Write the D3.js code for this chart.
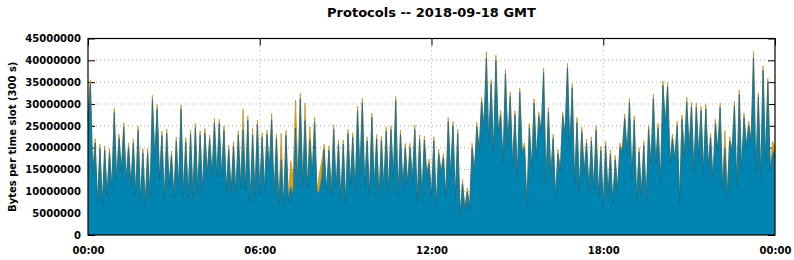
<!DOCTYPE html>
<html>
<head>
<meta charset="utf-8">
<script src="https://cdn.jsdelivr.net/npm/d3@7"></script>
<style>
  body { margin: 0; background: #fff; }
  text { font-family: "DejaVu Sans", sans-serif; font-weight: bold; }
</style>
</head>
<body>
<div id="chart"></div>
<script>
// bytes per 300 s slot, in millions (blue = lower layer, orange = upper layer)
var blueSeries = [
  26.2, 34.6, 13.7, 21.1, 7.2, 19.8, 6.7, 19.4, 9.0, 18.8, 10.6, 28.0,
  12.2, 22.1, 14.5, 24.7, 12.3, 20.1, 11.1, 21.0, 9.0, 24.0, 7.6, 18.8,
  6.9, 18.8, 8.4, 31.0, 17.4, 28.9, 12.6, 22.8, 7.8, 23.3, 11.4, 18.2,
  8.4, 21.4, 10.7, 28.8, 9.1, 21.3, 8.4, 23.0, 8.4, 24.6, 9.5, 22.9,
  9.6, 23.4, 13.7, 21.9, 13.3, 25.7, 13.1, 25.5, 13.1, 24.0, 9.9, 19.6,
  9.5, 20.4, 9.0, 22.9, 10.7, 24.1, 10.3, 26.3, 7.2, 22.9, 9.0, 25.3,
  9.5, 22.4, 9.9, 23.0, 14.9, 26.4, 8.8, 22.1, 6.9, 17.3, 6.5, 22.8,
  7.6, 11.0, 9.0, 24.5, 10.4, 31.2, 11.0, 26.2, 10.6, 21.8, 13.6, 25.8,
  9.5, 10.0, 13.0, 19.6, 9.6, 19.4, 9.1, 24.2, 10.3, 20.8, 7.8, 20.8,
  6.9, 23.2, 11.4, 22.4, 9.5, 28.5, 13.7, 30.3, 11.1, 21.5, 9.0, 26.9,
  10.7, 22.0, 8.0, 21.7, 10.3, 23.8, 9.5, 24.1, 12.6, 30.7, 8.8, 23.0,
  10.7, 20.0, 11.4, 20.0, 12.2, 24.2, 7.5, 21.9, 8.4, 21.7, 13.7, 16.4,
  8.6, 21.5, 6.1, 18.6, 14.1, 17.7, 8.4, 25.9, 13.3, 25.0, 8.4, 23.2,
  4.2, 11.7, 5.7, 9.8, 6.1, 20.0, 14.5, 24.8, 19.2, 30.5, 24.4, 40.5,
  21.0, 34.6, 18.7, 40.0, 23.3, 27.5, 16.4, 36.9, 20.6, 31.7, 15.4, 27.5,
  13.0, 32.7, 18.7, 20.1, 6.5, 24.6, 15.2, 30.2, 17.5, 27.2, 23.3, 37.2,
  11.6, 28.2, 13.3, 22.1, 8.4, 18.6, 14.5, 27.2, 22.9, 38.3, 19.4, 33.7,
  11.4, 25.7, 10.1, 23.7, 14.1, 21.0, 9.9, 21.5, 10.3, 24.0, 8.8, 19.4,
  6.1, 20.5, 9.0, 18.5, 6.9, 17.2, 10.3, 20.1, 19.1, 26.7, 18.7, 30.3,
  12.6, 26.3, 7.6, 19.0, 9.1, 20.6, 7.6, 24.2, 16.0, 31.2, 16.0, 24.6,
  11.6, 34.3, 25.2, 33.9, 16.4, 22.1, 17.2, 25.1, 7.2, 26.5, 17.9, 30.5,
  19.4, 29.4, 14.1, 29.2, 17.9, 28.5, 14.1, 28.9, 15.6, 22.3, 12.3, 25.5,
  19.1, 29.2, 10.7, 19.9, 8.3, 21.5, 19.1, 29.6, 10.7, 32.2, 14.5, 26.9,
  20.2, 25.1, 21.4, 40.6, 14.1, 31.6, 13.0, 37.7, 16.8, 34.9, 14.9, 18.4, 19.4
];
var orangeSeries = [
  0.8, 1.0, 0.4, 1.0, 0.4, 1.0, 0.4, 1.0, 0.4, 1.0, 0.4, 1.0,
  0.4, 1.0, 0.4, 1.0, 0.4, 1.0, 0.4, 1.0, 0.4, 1.0, 0.4, 1.0,
  0.4, 1.0, 0.4, 1.0, 0.4, 1.0, 0.4, 1.0, 0.4, 1.0, 0.4, 1.0,
  0.4, 1.0, 0.4, 1.0, 0.4, 1.0, 0.4, 1.0, 0.4, 1.0, 0.4, 1.0,
  0.4, 1.0, 0.4, 1.0, 0.4, 1.0, 0.4, 1.0, 0.4, 1.0, 0.4, 1.0,
  0.4, 1.0, 0.4, 1.0, 0.4, 4.8, 0.4, 1.0, 0.4, 1.5, 0.4, 1.0,
  0.4, 1.0, 0.4, 1.0, 0.4, 1.4, 0.4, 1.0, 0.4, 6.0, 0.4, 1.2,
  0.4, 6.0, 4.0, 6.4, 3.0, 1.2, 0.4, 4.0, 0.4, 3.0, 0.4, 1.2,
  0.4, 4.0, 4.0, 1.2, 0.4, 1.0, 0.4, 1.0, 0.4, 1.0, 0.4, 1.0,
  0.4, 1.0, 0.4, 1.0, 0.4, 1.0, 0.4, 1.0, 0.4, 1.0, 0.4, 1.0,
  0.4, 1.0, 0.4, 1.0, 0.4, 1.0, 0.4, 1.0, 0.4, 1.0, 0.4, 1.0,
  0.4, 1.0, 0.4, 1.0, 0.4, 1.0, 0.4, 1.0, 0.4, 1.0, 0.4, 1.0,
  0.4, 1.0, 0.4, 1.0, 0.4, 1.0, 0.4, 1.0, 0.4, 1.0, 0.4, 1.0,
  0.4, 1.0, 0.4, 1.0, 0.4, 1.0, 0.4, 1.0, 0.4, 1.0, 0.4, 1.5,
  0.4, 1.0, 0.4, 1.2, 0.4, 1.0, 0.4, 1.0, 0.4, 1.0, 0.4, 1.0,
  0.4, 1.0, 0.4, 1.0, 0.4, 1.0, 0.4, 1.0, 0.4, 1.0, 0.4, 1.0,
  0.4, 1.0, 0.4, 1.0, 0.4, 1.0, 0.4, 1.0, 0.4, 1.0, 0.4, 1.0,
  0.4, 1.2, 0.4, 1.0, 0.4, 1.0, 0.4, 1.0, 0.4, 1.0, 0.4, 1.0,
  0.4, 1.0, 0.4, 1.0, 0.4, 1.0, 0.4, 1.0, 0.4, 1.0, 0.4, 1.0,
  0.4, 1.0, 0.4, 1.0, 0.4, 1.0, 0.4, 1.0, 0.4, 1.0, 0.4, 1.0,
  0.4, 1.0, 0.4, 1.0, 0.4, 1.0, 0.4, 1.0, 0.4, 1.0, 0.4, 1.0,
  0.4, 1.0, 0.4, 1.0, 0.4, 1.0, 0.4, 1.0, 0.4, 1.0, 0.4, 1.0,
  0.4, 1.0, 0.4, 4.0, 2.0, 1.0, 0.4, 1.0, 0.4, 1.0, 0.4, 1.0,
  0.4, 1.0, 0.4, 1.4, 0.4, 1.0, 0.4, 1.0, 0.4, 1.0, 0.4, 3.0, 0.6
];
var yTicks = [0, 5000000, 10000000, 15000000, 20000000, 25000000, 30000000, 35000000, 40000000, 45000000];
var xTickLabels = ["00:00", "06:00", "12:00", "18:00", "00:00"];
var dayStart = new Date(Date.UTC(2018, 8, 18));
var dayEnd = new Date(Date.UTC(2018, 8, 19));
var slotSeconds = 300;

var margin = {top: 38.5, right: 19, bottom: 25, left: 88},
    width = 794 - margin.left - margin.right,
    height = 260 - margin.top - margin.bottom;

var svg = d3.select("#chart")
  .append("svg")
    .attr("width", 794)
    .attr("height", 260);

var g = svg.append("g")
    .attr("transform", "translate(" + margin.left + "," + margin.top + ")");

// one row per time slot, stacked blue then orange
var rows = blueSeries.map(function(b, i) {
  return {
    t: new Date(dayStart.getTime() + i * slotSeconds * 1000),
    blue: b * 1e6,
    orange: orangeSeries[i] * 1e6
  };
});
var stacked = d3.stack().keys(["blue", "orange"])(rows);

var x = d3.scaleUtc().domain([dayStart, dayEnd]).range([0, width]);
var y = d3.scaleLinear().domain([0, 45000000]).range([height, 0]);
var xTicks = d3.utcHours(dayStart, new Date(dayEnd.getTime() + 1), 6);

// grid (behind the data)
g.append("g").selectAll("line.hg")
  .data(yTicks.slice(1, -1))
  .enter().append("line")
    .attr("x1", 0).attr("x2", width)
    .attr("y1", function(d) { return y(d); })
    .attr("y2", function(d) { return y(d); })
    .attr("stroke", "#a8a8a8")
    .attr("stroke-dasharray", "1,3");
g.append("g").selectAll("line.vg")
  .data(xTicks.slice(1, -1))
  .enter().append("line")
    .attr("x1", function(d) { return x(d); })
    .attr("x2", function(d) { return x(d); })
    .attr("y1", 0).attr("y2", height)
    .attr("stroke", "#a8a8a8")
    .attr("stroke-dasharray", "1,3");

// inward ticks, mirrored
var yAxisL = g.append("g").call(d3.axisLeft(y).tickValues(yTicks).tickSize(-7).tickFormat(""));
var yAxisR = g.append("g").attr("transform", "translate(" + width + ",0)")
  .call(d3.axisRight(y).tickValues(yTicks).tickSize(-7).tickFormat(""));
var xAxisT = g.append("g").call(d3.axisTop(x).tickValues(xTicks).tickSize(-7).tickFormat(""));
[yAxisL, yAxisR, xAxisT].forEach(function(a) {
  a.select(".domain").remove();
  a.selectAll("line").attr("stroke", "#000");
});

// areas
var area = d3.area()
  .x(function(d) { return x(d.data.t); })
  .y0(function(d) { return y(d[0]); })
  .y1(function(d) { return y(d[1]); });
var topLine = d3.line()
  .x(function(d) { return x(d.data.t); })
  .y(function(d) { return y(d[1]); });

g.append("path").datum(stacked[1])
  .attr("d", area).attr("fill", "#e69f00");
g.append("path").datum(stacked[1])
  .attr("d", topLine).attr("fill", "none")
  .attr("stroke", "#c4922a").attr("stroke-width", 0.8);
g.append("path").datum(stacked[0])
  .attr("d", area).attr("fill", "#0084b2");
g.append("path").datum(stacked[0])
  .attr("d", topLine).attr("fill", "none")
  .attr("stroke", "#1e6a80").attr("stroke-width", 0.8);

// border
g.append("rect")
  .attr("width", width).attr("height", height)
  .attr("fill", "none").attr("stroke", "#000").attr("stroke-width", 1.2);

// tick labels
var yAxisText = g.append("g").call(d3.axisLeft(y).tickValues(yTicks).tickSize(0).tickPadding(7).tickFormat(d3.format("d")));
yAxisText.select(".domain").remove();
yAxisText.selectAll("text").attr("font-size", "10px").attr("font-family", null).attr("fill", "#000");

var xAxisText = g.append("g").attr("transform", "translate(0," + height + ")")
  .call(d3.axisBottom(x).tickValues(xTicks).tickSize(0).tickPadding(12)
    .tickFormat(function(d, i) { return xTickLabels[i]; }));
xAxisText.select(".domain").remove();
xAxisText.selectAll("text").attr("font-size", "10px").attr("font-family", null).attr("fill", "#000");

// title and y label
svg.append("text")
  .attr("x", margin.left + width / 2)
  .attr("y", 17)
  .attr("text-anchor", "middle")
  .attr("font-size", "13px")
  .text("Protocols -- 2018-09-18 GMT");

svg.append("text")
  .attr("transform", "translate(16," + (margin.top + height / 2) + ") rotate(-90)")
  .attr("text-anchor", "middle")
  .attr("font-size", "10px")
  .text("Bytes per time slot (300 s)");
</script>
</body>
</html>
